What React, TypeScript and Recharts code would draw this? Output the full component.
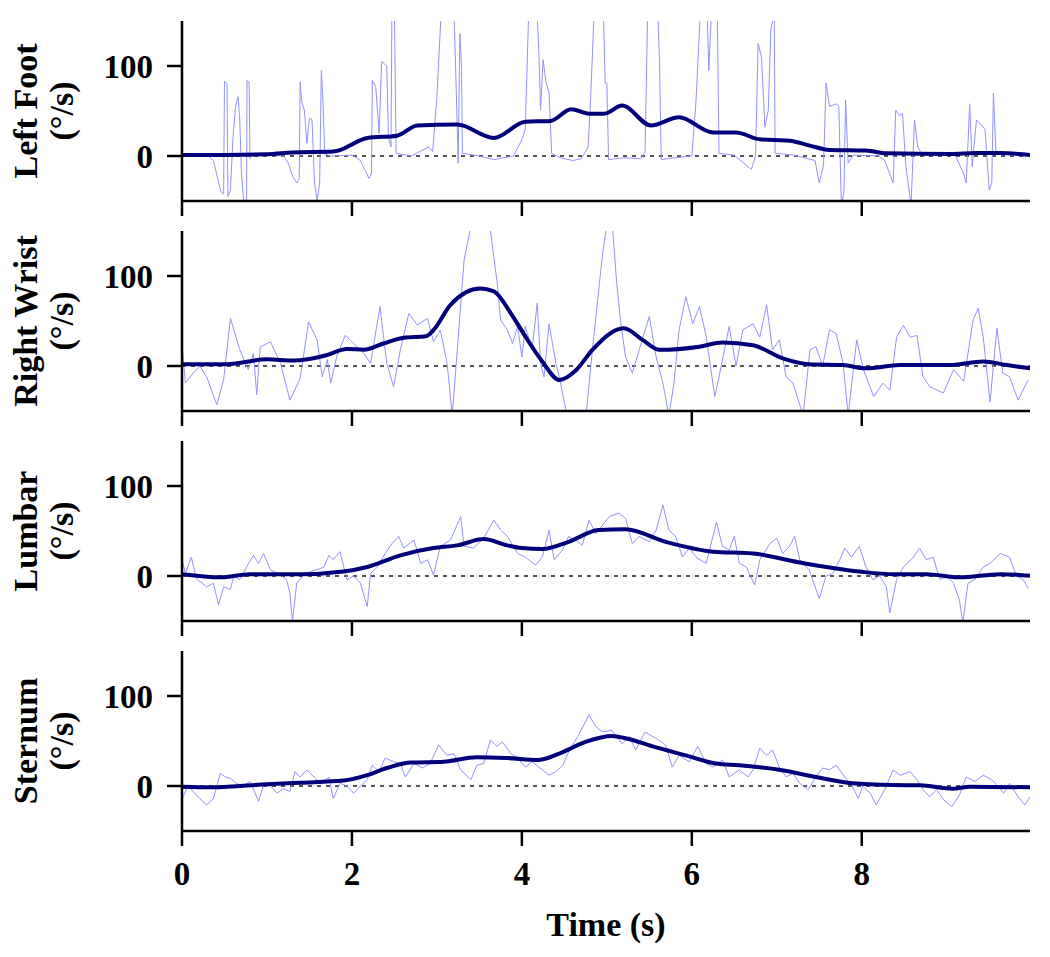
import React from "react";
import { LineChart, Line, XAxis, YAxis, ReferenceLine } from "recharts";

// time (s), angular velocity (°/s)
const footRaw = [
  [0, 0], [0.3, 1], [0.37, -5], [0.42, -25], [0.46, -40], [0.49, -42], [0.5, 83], [0.53, 80], [0.54, -45], [0.57, -38],
  [0.6, 20], [0.63, 55], [0.66, 66], [0.68, 40], [0.7, -20], [0.73, -54], [0.76, -50], [0.765, 84], [0.79, 82], [0.8, -3],
  [0.83, 2], [1.0, 1], [1.2, 0], [1.25, -8], [1.3, -22], [1.35, -30], [1.38, -25], [1.39, 82], [1.41, 60], [1.44, 51],
  [1.47, 14], [1.5, 42], [1.53, 40], [1.56, -30], [1.59, -50], [1.62, -30], [1.64, 95], [1.66, 60], [1.68, 2], [1.75, 0],
  [2.0, 1], [2.1, -5], [2.2, -25], [2.23, -20], [2.24, 84], [2.28, 77], [2.32, 25], [2.35, 105], [2.41, 100], [2.43, 20],
  [2.46, 10], [2.47, 160], [2.5, 160], [2.52, 3], [2.7, 0], [2.9, 10], [2.95, 5], [3.0, 66], [3.05, 160], [3.2, 160],
  [3.22, 100], [3.25, -8], [3.27, 136], [3.29, 100], [3.3, 3], [3.5, 0], [3.67, -4], [3.9, 0], [4.0, 18], [4.04, 30],
  [4.08, 160], [4.18, 160], [4.2, 114], [4.22, 51], [4.25, 107], [4.28, 84], [4.32, 70], [4.35, 3], [4.45, -2], [4.6, -5],
  [4.7, -3], [4.78, 10], [4.81, 66], [4.85, 160], [4.96, 160], [4.98, 81], [5.0, 81], [5.02, -4], [5.2, -2], [5.4, -3],
  [5.45, 5], [5.48, 160], [5.6, 160], [5.62, 103], [5.64, -4], [5.8, -2], [6.0, 0], [6.05, 62], [6.1, 160], [6.18, 160],
  [6.2, 95], [6.23, 160], [6.3, 160], [6.32, 3], [6.5, 1], [6.7, -15], [6.75, 0], [6.78, 125], [6.82, 110], [6.86, 32],
  [6.9, 51], [6.93, 140], [6.97, 160], [6.98, 3], [7.2, 1], [7.45, -5], [7.5, -30], [7.55, -10], [7.58, 81], [7.62, 55],
  [7.7, 58], [7.73, 55], [7.76, -55], [7.79, -40], [7.81, 62], [7.84, -8], [7.9, 1], [8.2, 0], [8.27, -5], [8.37, -30],
  [8.4, 51], [8.44, 45], [8.48, 47], [8.52, -12], [8.58, -55], [8.62, 40], [8.66, 10], [8.7, 3], [9.1, 1], [9.2, -20],
  [9.23, -30], [9.27, 58], [9.3, -12], [9.35, 40], [9.45, 30], [9.5, -38], [9.53, -30], [9.55, 70], [9.58, 3], [9.8, 1],
  [9.98, 1],
];
const footSmooth = [
  [0, 1], [1, 2], [1.3, 4], [1.78, 5], [2.18, 20], [2.53, 22.6], [2.77, 34], [3.24, 35], [3.67, 20], [4.04, 38],
  [4.34, 39], [4.58, 52], [4.79, 47], [4.97, 47], [5.18, 56], [5.52, 34], [5.85, 43], [6.25, 26], [6.52, 26], [6.8, 18.5],
  [7.15, 17], [7.39, 11.5], [7.62, 6.7], [8.05, 6], [8.29, 3], [9.04, 2.2], [9.35, 3.3], [9.63, 3.3], [9.98, 1],
];

const wristRaw = [
  [0, 25], [0.04, -19], [0.13, -8], [0.21, 0], [0.29, -12], [0.41, -43], [0.49, -15], [0.57, 53], [0.68, 18], [0.78, -4],
  [0.84, 14], [0.88, -32], [0.92, 21], [1.04, 27], [1.16, 3], [1.27, -38], [1.39, -14], [1.49, 49], [1.59, 29], [1.65, -12],
  [1.71, 7], [1.75, -19], [1.82, 10], [1.92, 34], [2.02, 25], [2.14, 14], [2.22, 3], [2.33, 66], [2.41, 3], [2.49, -23],
  [2.57, 18], [2.67, 58.5], [2.77, 45.5], [2.89, 53], [2.96, 27], [3.04, 40], [3.12, 3], [3.18, -55], [3.24, 18], [3.32, 118],
  [3.4, 155], [3.5, 175], [3.6, 160], [3.63, 150], [3.71, 92], [3.75, 51], [3.83, 40], [3.89, 25], [3.95, 44], [4.0, 10],
  [4.04, 44], [4.12, 18], [4.18, 70], [4.22, 3], [4.26, -12], [4.32, 47], [4.4, 3], [4.44, -12], [4.52, -50], [4.64, -67],
  [4.76, -50], [4.83, 18], [4.95, 125], [4.99, 150], [5.03, 170], [5.07, 150], [5.11, 99], [5.16, 51], [5.22, 10], [5.3, -8],
  [5.38, 18], [5.5, 55], [5.58, 10], [5.66, -19], [5.73, -55], [5.79, -19], [5.85, 40], [5.93, 77], [6.01, 47], [6.09, 66],
  [6.17, 32.6], [6.27, -34], [6.32, -12], [6.44, 44], [6.52, 0], [6.6, 40], [6.72, 47], [6.8, 32], [6.88, 68], [6.95, 18],
  [7.03, 29], [7.11, -12], [7.19, -19], [7.31, -55], [7.39, 18], [7.46, 21.5], [7.54, 0], [7.62, 40], [7.7, 36], [7.78, 3],
  [7.84, -55], [7.94, 29], [8.02, -4], [8.14, -34], [8.25, -19], [8.33, -27], [8.41, 32], [8.49, 45], [8.57, 32], [8.65, 34],
  [8.72, -12], [8.8, -23], [8.96, -30], [9.08, -4], [9.2, -17], [9.31, 51], [9.37, 64], [9.43, 32], [9.51, -40], [9.59, 42],
  [9.66, -8], [9.74, -12], [9.84, -38], [9.96, -15],
];
const wristSmooth = [
  [0, 2], [0.53, 2], [1.0, 7.4], [1.31, 6], [1.7, 12], [1.94, 19], [2.14, 18], [2.37, 25], [2.61, 31.5], [2.87, 33],
  [2.96, 40], [3.16, 68], [3.51, 86], [3.67, 83], [3.87, 58.5], [4.02, 36], [4.24, 5], [4.44, -15.5], [4.64, -4.4], [4.83, 18],
  [5.2, 42], [5.42, 29], [5.62, 18], [6.09, 21.5], [6.36, 26], [6.72, 23], [7.07, 8.5], [7.38, 2], [7.78, 1], [8.05, -2.6],
  [8.45, 1], [9.04, 1], [9.43, 5], [9.71, 1], [9.98, -2.6],
];

const lumbarRaw = [
  [0, 18], [0.04, 3], [0.11, 21], [0.17, -3], [0.29, -12], [0.37, -8], [0.43, -32], [0.49, -12], [0.57, -15], [0.61, 0],
  [0.68, -4], [0.76, 10], [0.84, 23], [0.9, 14], [0.96, 25], [1.04, 7], [1.16, 1], [1.23, -4], [1.27, -19], [1.3, -50],
  [1.35, -8], [1.43, 1], [1.51, 5], [1.59, 7], [1.67, 10], [1.73, 23], [1.78, 18], [1.86, 27], [1.94, -4], [2.02, 0],
  [2.1, -8], [2.18, -34], [2.22, 3], [2.3, 10], [2.39, 25], [2.47, 36], [2.55, 44], [2.61, 31], [2.73, 40], [2.81, 14],
  [2.89, 18], [2.96, 1], [3.04, 33], [3.16, 40], [3.28, 66], [3.32, 33], [3.43, 31], [3.55, 42], [3.67, 62], [3.75, 51],
  [3.83, 44], [3.95, 25], [4.04, 21], [4.16, 12], [4.24, 21], [4.32, 51], [4.38, 18], [4.48, 29], [4.55, 44], [4.63, 40],
  [4.71, 34], [4.79, 62], [4.87, 47], [5.03, 66], [5.14, 70], [5.22, 64], [5.3, 36], [5.38, 44], [5.5, 38], [5.58, 51],
  [5.66, 79], [5.73, 51], [5.81, 44], [5.89, 21], [5.97, 31], [6.06, 20], [6.17, 14], [6.29, 60], [6.36, 33], [6.44, 29],
  [6.5, 44], [6.56, 14], [6.64, 10], [6.74, -10], [6.8, 18], [6.92, 36], [7.0, 42], [7.07, 25], [7.15, 33], [7.21, 44],
  [7.27, 18], [7.38, 7], [7.5, -25], [7.58, 0], [7.66, 3], [7.74, 18], [7.8, 31], [7.88, 21], [7.97, 33], [8.05, 10],
  [8.13, -4], [8.21, 0], [8.29, -12], [8.33, -41], [8.41, -4], [8.49, 10], [8.6, 20], [8.68, 31], [8.76, 18], [8.84, 21],
  [8.92, -4], [9.0, 0], [9.08, -8], [9.15, -27], [9.19, -52], [9.25, -8], [9.33, -4], [9.43, 10], [9.51, 14], [9.63, 25],
  [9.74, 21], [9.82, 0], [9.9, -4], [9.96, -14],
];
const lumbarSmooth = [
  [0, 2], [0.45, -1.5], [0.8, 2], [1.39, 2], [1.9, 5], [2.18, 10], [2.57, 23], [2.96, 31], [3.24, 34], [3.55, 41],
  [3.83, 34], [4.0, 31], [4.24, 30], [4.55, 38], [4.9, 51], [5.22, 52], [5.69, 38], [6.25, 27], [6.72, 25], [7.27, 15],
  [7.97, 5], [8.37, 2], [8.76, 2], [9.15, -1.5], [9.63, 2], [9.98, 0.4],
];

const sternumRaw = [
  [0, -15], [0.07, 0], [0.15, -8], [0.21, -14], [0.29, -21], [0.37, -14], [0.45, 14], [0.51, 10], [0.57, 8.5], [0.64, 3],
  [0.72, 0], [0.8, 5], [0.86, -8], [0.9, -17], [0.96, 1], [1.04, 0], [1.12, -8], [1.19, -3], [1.27, -6], [1.33, 16],
  [1.39, 10], [1.47, 18], [1.57, 8.5], [1.63, 3], [1.73, 10], [1.78, -14], [1.86, 3], [1.94, 0], [2.02, -8], [2.1, 0],
  [2.18, 7], [2.24, 23], [2.32, 16], [2.39, 31], [2.49, 27], [2.57, 25], [2.63, 10], [2.73, 25], [2.83, 20], [2.92, 25],
  [3.02, 45.5], [3.12, 34], [3.2, 36], [3.28, 18], [3.4, 7], [3.47, 23], [3.55, 25], [3.63, 51], [3.71, 44], [3.77, 49],
  [3.87, 36], [3.95, 31], [4.04, 21], [4.12, 27], [4.24, 18], [4.32, 12], [4.4, 16], [4.48, 23], [4.56, 40], [4.67, 57],
  [4.79, 79], [4.87, 66], [4.95, 60], [5.06, 62], [5.18, 47], [5.26, 55], [5.34, 40], [5.45, 60], [5.61, 51], [5.69, 45.5],
  [5.77, 21], [5.85, 34], [5.97, 27], [6.07, 44], [6.17, 25], [6.25, 21], [6.36, 29], [6.44, 10], [6.56, 18], [6.66, 10],
  [6.72, 18], [6.8, 42], [6.88, 34], [6.95, 40], [7.03, 21], [7.11, 10], [7.19, 14], [7.27, 3], [7.37, -4], [7.46, 10],
  [7.54, 20], [7.62, 18], [7.7, 23], [7.8, 10], [7.88, 1], [7.96, -14], [8.01, 0], [8.1, -8], [8.17, -21], [8.27, -4],
  [8.37, 18], [8.45, 12], [8.57, 16], [8.65, 7], [8.72, -4], [8.8, -12], [8.88, -4], [8.96, -15], [9.06, -23], [9.15, -10],
  [9.23, 10], [9.33, 5], [9.43, 12], [9.53, 7], [9.6, 0], [9.67, -8], [9.74, 3], [9.84, -12], [9.92, -21], [9.98, -12],
];
const sternumSmooth = [
  [0, -0.7], [0.37, -1.5], [1.0, 2], [1.39, 3.7], [1.9, 6], [2.18, 12], [2.41, 20], [2.69, 26], [3.08, 27], [3.47, 32],
  [3.83, 31], [4.2, 29], [4.44, 36], [4.75, 49], [5.06, 55.5], [5.22, 53], [5.54, 44], [5.93, 34], [6.28, 25], [6.56, 23],
  [7.03, 18], [7.46, 10], [7.89, 3], [8.37, 1], [8.69, 0.7], [9.07, -3], [9.27, -0.7], [9.98, -1.5],
];

const panelNames = ["Left Foot", "Right Wrist", "Lumbar", "Sternum"];
const rawSeries = [footRaw, wristRaw, lumbarRaw, sternumRaw];
const smoothSeries = [footSmooth, wristSmooth, lumbarSmooth, sternumSmooth];
const xTicks = [0, 2, 4, 6, 8];
const yTicks = [0, 100];
const unitLabel = "(°/s)";
const xLabel = "Time (s)";

const FONT = "'Liberation Serif', 'Times New Roman', serif";
const toPoints = (arr: number[][]) => arr.map(([t, v]) => ({ t, v }));
const tickFont = { fill: "#000", fontSize: 33, fontWeight: "bold", fontFamily: FONT };

function Panel({ idx }: { idx: number }) {
  const last = idx === panelNames.length - 1;
  const height = last ? 327 : 230;
  const axisStyle = { stroke: "#000", strokeWidth: 2.5 };
  return (
    <div style={{ position: "absolute", left: 0, top: idx * 210 }}>
      <LineChart width={1050} height={height} margin={{ top: 21, right: 20, bottom: 0, left: 0 }}>
        <XAxis
          type="number"
          dataKey="t"
          domain={[0, 9.98]}
          allowDataOverflow
          ticks={xTicks}
          interval={0}
          height={last ? 126 : 29}
          tickSize={15}
          tickMargin={16}
          axisLine={axisStyle}
          tickLine={axisStyle}
          tick={tickFont}
          tickFormatter={last ? undefined : () => ""}
        />
        <YAxis
          type="number"
          domain={[-50, 150]}
          allowDataOverflow
          ticks={yTicks}
          width={182}
          tickSize={15}
          tickMargin={14}
          axisLine={axisStyle}
          tickLine={axisStyle}
          tick={tickFont}
        />
        <ReferenceLine y={0} stroke="#555" strokeWidth={1.8} strokeDasharray="4 5" />
        <Line
          data={toPoints(rawSeries[idx])}
          dataKey="v"
          type="linear"
          stroke="#9292ff"
          strokeWidth={1}
          dot={false}
          isAnimationActive={false}
        />
        <Line
          data={toPoints(smoothSeries[idx])}
          dataKey="v"
          type="monotone"
          stroke="#00007a"
          strokeWidth={4}
          dot={false}
          isAnimationActive={false}
        />
      </LineChart>
    </div>
  );
}

export default function App() {
  return (
    <div style={{ position: "absolute", left: 0, top: 0, width: 1050, height: 957, background: "#fff", overflow: "hidden" }}>
      {panelNames.map((name, i) => (
        <Panel key={name} idx={i} />
      ))}
      {panelNames.map((name, i) => (
        <div
          key={name + "-label"}
          style={{
            position: "absolute",
            left: 44,
            top: 111 + i * 210,
            transform: "translate(-50%, -50%) rotate(-90deg)",
            whiteSpace: "nowrap",
            textAlign: "center",
            fontFamily: FONT,
            fontWeight: "bold",
            fontSize: 34,
            lineHeight: "36px",
          }}
        >
          <div>{name}</div>
          <div>{unitLabel}</div>
        </div>
      ))}
      <div
        style={{
          position: "absolute",
          left: 606,
          top: 908,
          transform: "translateX(-50%)",
          whiteSpace: "nowrap",
          fontFamily: FONT,
          fontWeight: "bold",
          fontSize: 34,
          lineHeight: 1,
        }}
      >
        {xLabel}
      </div>
    </div>
  );
}
